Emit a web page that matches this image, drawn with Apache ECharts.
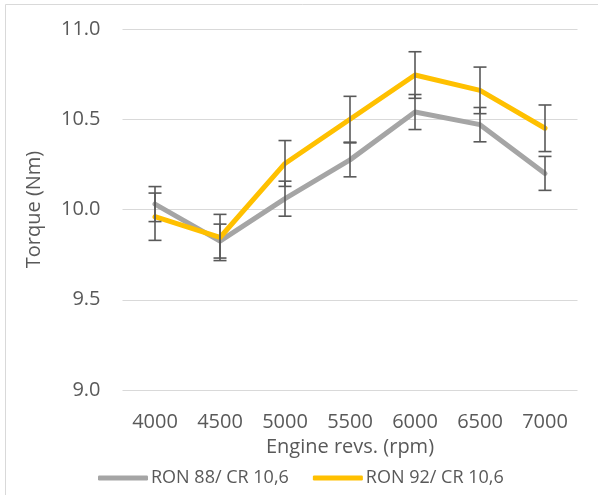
<!DOCTYPE html>
<html>
<head>
<meta charset="utf-8">
<script src="https://cdn.jsdelivr.net/npm/echarts@6/dist/echarts.min.js"></script>
<style>
html,body{margin:0;padding:0;background:#fff;}
#chart{width:598px;height:495px;}
</style>
</head>
<body>
<div id="chart"></div>
<script>
const categories = ['4000','4500','5000','5500','6000','6500','7000'];
const ron88 = [10.03, 9.825, 10.06, 10.275, 10.54, 10.47, 10.20];
const ron92 = [9.96, 9.845, 10.255, 10.50, 10.745, 10.66, 10.45];
const err88 = [0.097, 0.094, 0.097, 0.094, 0.097, 0.095, 0.094];
const err92 = [0.131, 0.128, 0.127, 0.127, 0.129, 0.129, 0.129];
const yTicks = [9.0, 9.5, 10.0, 10.5, 11.0];
const seriesNames = ['RON 88/ CR 10,6', 'RON 92/ CR 10,6'];

const FONT = '"Open Sans", sans-serif';
const TXT = '#595959';

function errData(vals, errs) {
  return vals.map((v, i) => [i, v - errs[i], v + errs[i]]);
}
function renderErr(params, api) {
  const x = api.value(0);
  const lo = api.coord([x, api.value(1)]);
  const hi = api.coord([x, api.value(2)]);
  const hw = 6.5;
  const st = { stroke: '#595959', lineWidth: 1.6 };
  return {
    type: 'group',
    children: [
      { type: 'line', shape: { x1: lo[0], y1: lo[1], x2: hi[0], y2: hi[1] }, style: st },
      { type: 'line', shape: { x1: lo[0] - hw, y1: lo[1], x2: lo[0] + hw, y2: lo[1] }, style: st },
      { type: 'line', shape: { x1: hi[0] - hw, y1: hi[1], x2: hi[0] + hw, y2: hi[1] }, style: st }
    ]
  };
}

const chart = echarts.init(document.getElementById('chart'), null, { renderer: 'canvas' });
chart.setOption({
  animation: false,
  backgroundColor: '#fff',
  graphic: [{
    type: 'rect', silent: true,
    shape: { x: 5.5, y: 4.5, width: 620, height: 520 },
    style: { fill: 'none', stroke: '#d9d9d9', lineWidth: 1 }
  }],
  grid: { left: 122.5, right: 20.5, top: 29, bottom: 105 },
  legend: {
    left: 93, top: 464,
    itemWidth: 50, itemHeight: 5, itemGap: 24,
    icon: 'roundRect',
    textStyle: { fontFamily: FONT, fontSize: 18, color: TXT, padding: [0, 0, 0, -2] },
    data: seriesNames
  },
  xAxis: {
    type: 'category',
    data: categories,
    boundaryGap: true,
    axisLine: { show: false },
    axisTick: { show: false },
    axisLabel: { fontFamily: FONT, fontSize: 20, color: TXT, margin: 22 },
    name: 'Engine revs. (rpm)',
    nameLocation: 'middle',
    nameGap: 40,
    nameTextStyle: { fontFamily: FONT, fontSize: 20, color: TXT }
  },
  yAxis: {
    type: 'value',
    min: 9, max: 11, interval: 0.5,
    axisLine: { show: false },
    axisTick: { show: false },
    splitLine: { lineStyle: { color: '#d9d9d9', width: 1 } },
    axisLabel: { fontFamily: FONT, fontSize: 20, color: TXT, margin: 22,
      formatter: v => yTicks.includes(+v.toFixed(1)) ? v.toFixed(1) : '' },
    name: 'Torque (Nm)',
    nameLocation: 'middle',
    nameGap: 78,
    nameTextStyle: { fontFamily: FONT, fontSize: 20, color: TXT }
  },
  series: [
    { name: seriesNames[0], type: 'line', data: ron88, symbol: 'none', color: '#A5A5A5',
      lineStyle: { width: 5, color: '#A5A5A5', cap: 'round', join: 'round' }, z: 2 },
    { name: seriesNames[1], type: 'line', data: ron92, symbol: 'none', color: '#FFC000',
      lineStyle: { width: 5, color: '#FFC000', cap: 'round', join: 'round' }, z: 3 },
    { type: 'custom', renderItem: renderErr, data: errData(ron88, err88), z: 5, silent: true },
    { type: 'custom', renderItem: renderErr, data: errData(ron92, err92), z: 5, silent: true }
  ]
});
</script>
</body>
</html>
